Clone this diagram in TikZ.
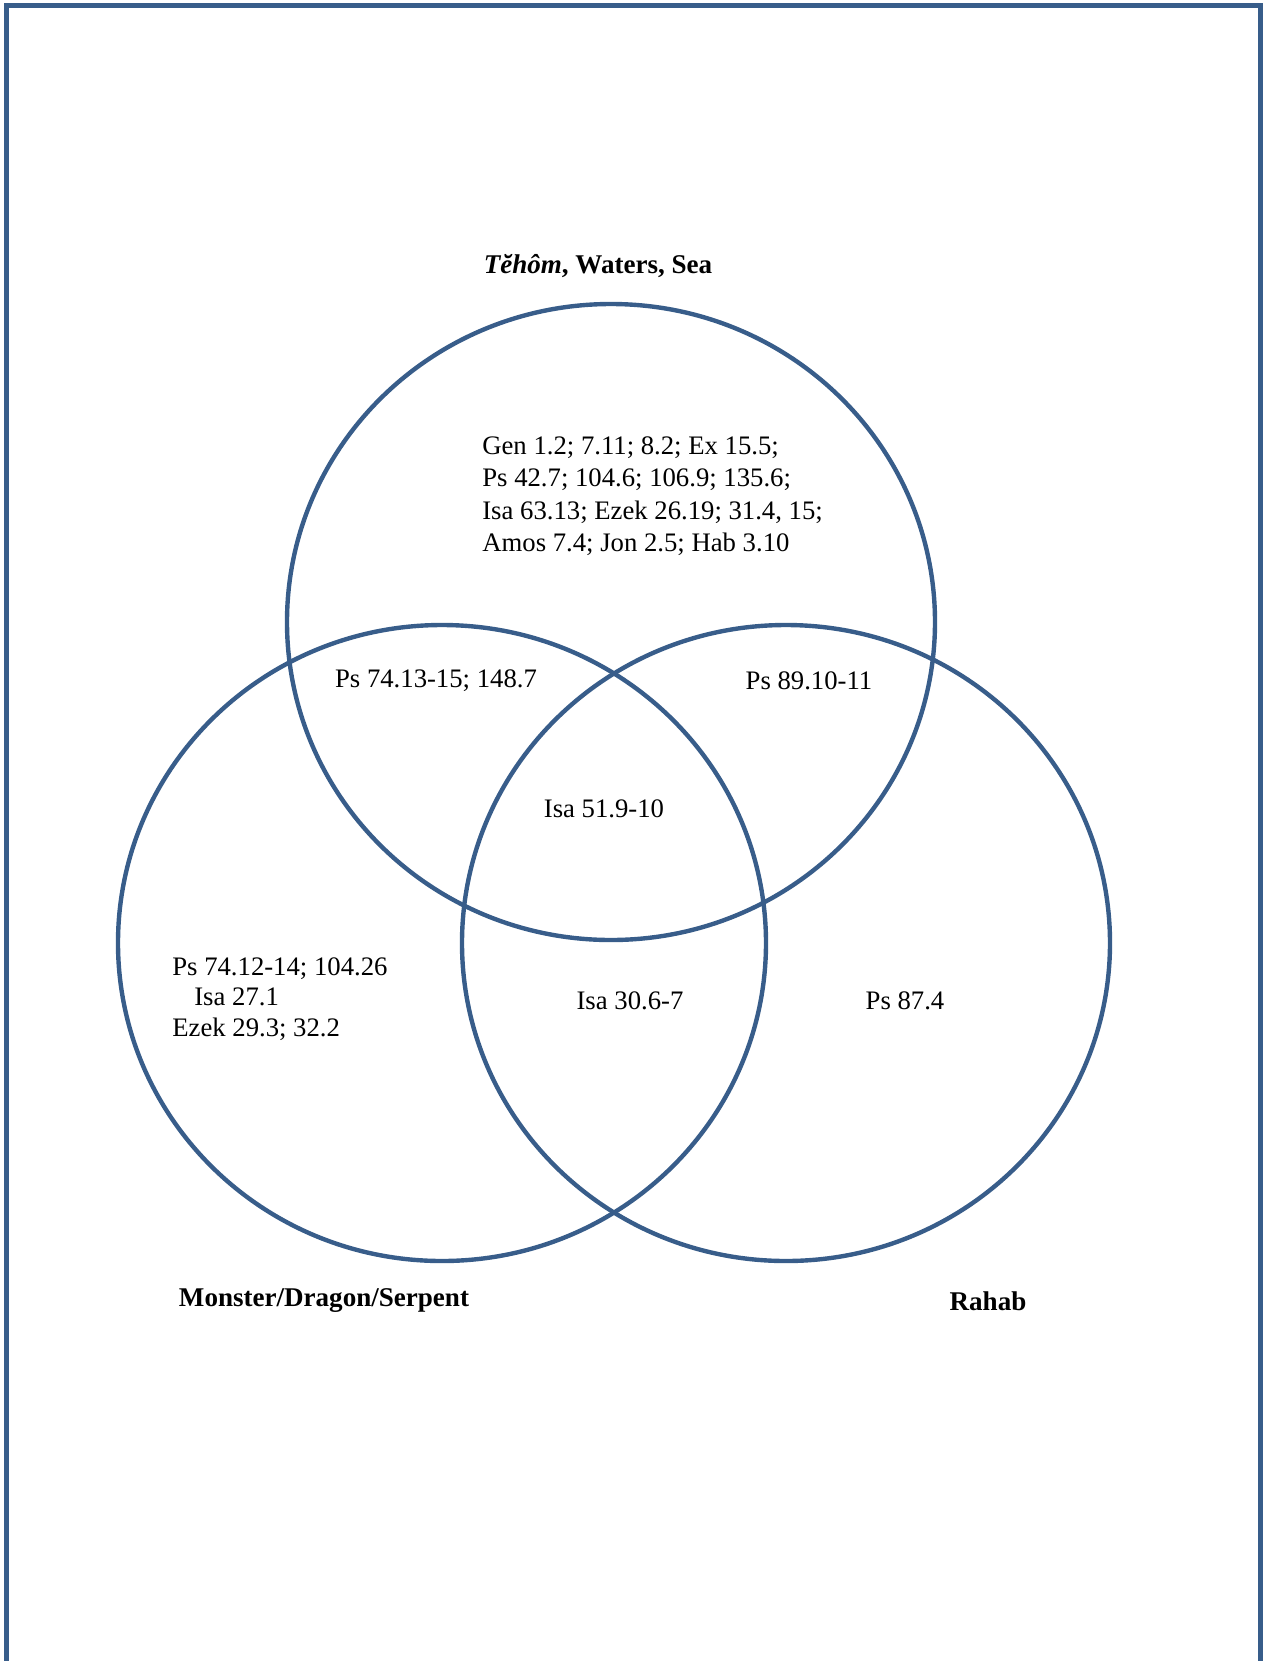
\documentclass[tikz,border=0pt]{standalone}
\usepackage{fontspec}
\setmainfont{Liberation Serif}
\definecolor{vennblue}{HTML}{385D8A}
\tikzset{
  venn/.style={draw=vennblue, line width=2.5pt},
  ref/.style={inner sep=0pt, font=\fontsize{15.2}{18}\selectfont},
  setname/.style={inner sep=0pt, font=\fontsize{15.4}{18}\selectfont\bfseries}
}
\begin{document}
\begin{tikzpicture}[x=0.02cm, y=-0.02cm]
  \useasboundingbox (0,0) rectangle (1263,1661);
  % page frame
  \draw[vennblue, line width=2.85pt] (6.5,1661) -- (6.5,5.5) -- (1260.5,5.5) -- (1260.5,1661);
  \coordinate (T) at (611,622);
  \coordinate (L) at (442,943);
  \coordinate (R) at (786,943);
  \foreach \c in {T,L,R}{
    \draw[venn] (\c) ellipse [x radius=324, y radius=318];
  }
  \node[setname] (tehom) at (598,266) {\textit{Tĕhôm}, Waters, Sea};
  \node[setname] (monster) at (324,1301) {Monster/Dragon/Serpent};
  \node[setname] (rahab) at (988,1301) {Rahab};
  \foreach \y/\t [count=\i] in {450/{Gen 1.2; 7.11; 8.2; Ex 15.5;},
      482/{Ps 42.7; 104.6; 106.9; 135.6;},
      515/{Isa 63.13; Ezek 26.19; 31.4, 15;},
      547/{Amos 7.4; Jon 2.5; Hab 3.10}}{
    \node[ref, anchor=mid west] (top\i) at (482,\y) {\t};
  }
  \node[ref] (tl) at (436,681) {Ps 74.13-15; 148.7};
  \node[ref] (tr) at (809,681) {Ps 89.10-11};
  \node[ref] (all) at (604,809) {Isa 51.9-10};
  \node[ref, anchor=mid west] (left1) at (172,971) {Ps 74.12-14; 104.26};
  \node[ref, anchor=mid west] (left2) at (194,1001) {Isa 27.1};
  \node[ref, anchor=mid west] (left3) at (172,1032) {Ezek 29.3; 32.2};
  \node[ref] (lr) at (630,1001) {Isa 30.6-7};
  \node[ref] (right) at (905,1001) {Ps 87.4};
\end{tikzpicture}
\end{document}
